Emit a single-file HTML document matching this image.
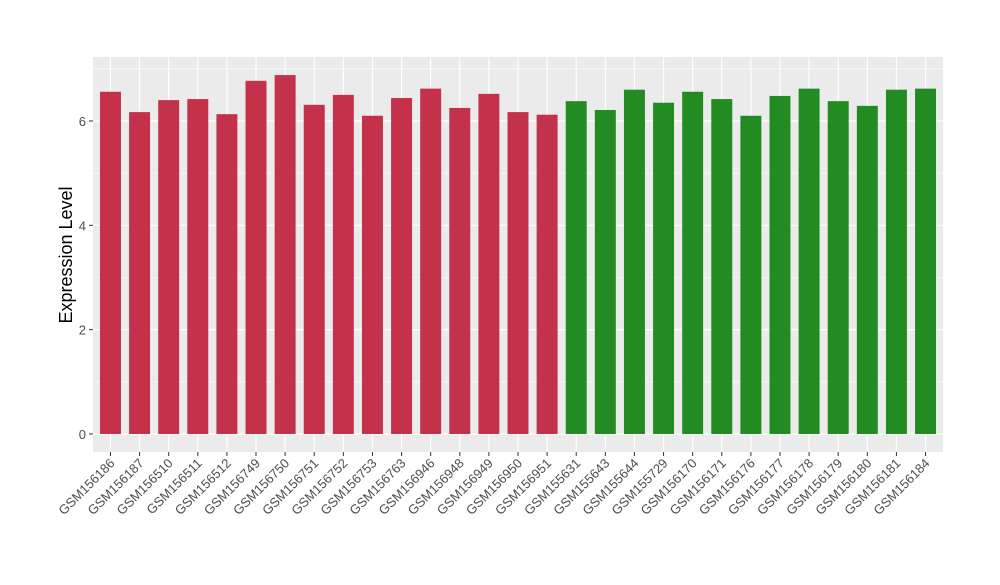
<!DOCTYPE html>
<html><head><meta charset="utf-8"><style>
body{margin:0;background:#fff;font-family:"Liberation Sans",sans-serif}
</style></head><body>
<svg id="chart" width="1000" height="580" xmlns="http://www.w3.org/2000/svg"></svg>
<script>
const categories=["GSM156186","GSM156187","GSM156510","GSM156511","GSM156512","GSM156749","GSM156750","GSM156751","GSM156752","GSM156753","GSM156763","GSM156946","GSM156948","GSM156949","GSM156950","GSM156951","GSM155631","GSM155643","GSM155644","GSM155729","GSM156170","GSM156171","GSM156176","GSM156177","GSM156178","GSM156179","GSM156180","GSM156181","GSM156184"];
const values=[6.56,6.17,6.40,6.42,6.13,6.77,6.88,6.31,6.50,6.10,6.44,6.62,6.25,6.52,6.17,6.12,6.38,6.21,6.60,6.35,6.56,6.42,6.10,6.48,6.62,6.38,6.29,6.60,6.62];
const groups=["a","a","a","a","a","a","a","a","a","a","a","a","a","a","a","a","b","b","b","b","b","b","b","b","b","b","b","b","b"];
const yTicks=[0,2,4,6];
const NS="http://www.w3.org/2000/svg";
const svg=document.getElementById('chart');
const L=93,R=943,T=57,B=452;
const y=v=>434-v*52.17;
const step=(R-L)/(categories.length+0.2);
const x=i=>L+step*0.6+i*step;
const bw=step*0.72;
function mk(t,a){const e=document.createElementNS(NS,t);for(const k in a)e.setAttribute(k,a[k]);svg.appendChild(e);return e;}
const bg=mk('rect',{x:L,y:T,width:R-L,height:B-T,fill:'#ebebeb'});


for(let v=1;v<=7;v+=2){const g=mk('line',{x1:L,x2:R,y1:y(v),y2:y(v),stroke:'#fff','stroke-width':0.6});

}
yTicks.forEach(v=>{const g=mk('line',{x1:L,x2:R,y1:y(v),y2:y(v),stroke:'#fff','stroke-width':1.2});


const tk=mk('line',{x1:L-4,x2:L,y1:y(v),y2:y(v),stroke:'#333'});


const t=mk('text',{x:L-7,y:y(v)+5,'text-anchor':'end','font-size':13,fill:'#4d4d4d'});t.textContent=v;

});
categories.forEach((c,i)=>{const cx=x(i);
const g=mk('line',{x1:cx,x2:cx,y1:T,y2:B,stroke:'#fff','stroke-width':1.2});


const b=mk('rect',{x:cx-bw/2,y:y(values[i]),width:bw,height:y(0)-y(values[i]),fill:groups[i]==='a'?'#c3314a':'#228b22'});


const tk=mk('line',{x1:cx,x2:cx,y1:B,y2:B+4,stroke:'#333'});


const t=mk('text',{x:cx+5,y:B+12,'text-anchor':'end','font-size':13,fill:'#4d4d4d',transform:`rotate(-45 ${cx+5} ${B+12})`});t.textContent=c;

});
const yt=mk('text',{x:72,y:255,'text-anchor':'middle','font-size':18,fill:'#000',transform:'rotate(-90 72 255)'});yt.textContent='Expression Level';


</script>
</body></html>
